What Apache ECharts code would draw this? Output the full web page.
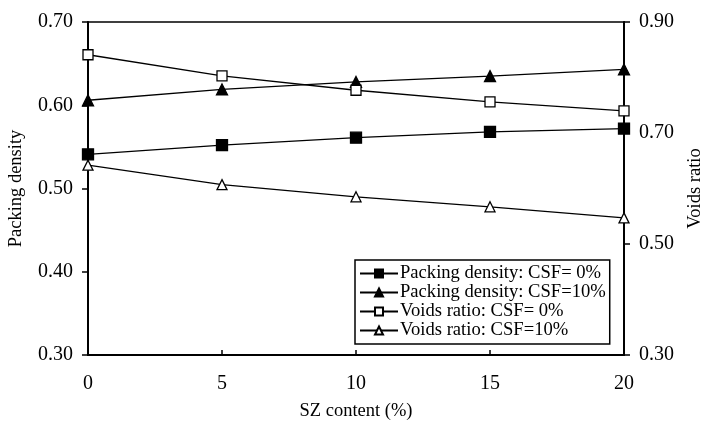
<!DOCTYPE html>
<html>
<head>
<meta charset="utf-8">
<script src="https://cdn.jsdelivr.net/npm/echarts@6/dist/echarts.min.js"></script>
<style>
html,body{margin:0;padding:0;background:#fff;}
#chart{width:704px;height:427px;}
</style>
</head>
<body>
<div id="chart"></div>
<script>
const szContent = [0, 5, 10, 15, 20];
const packingCSF0 = [0.541, 0.552, 0.561, 0.568, 0.572];
const packingCSF10 = [0.606, 0.619, 0.628, 0.635, 0.643];
const voidsCSF0 = [0.841, 0.803, 0.777, 0.756, 0.740];
const voidsCSF10 = [0.642, 0.607, 0.585, 0.567, 0.547];
const seriesNames = ['Packing density: CSF= 0%', 'Packing density: CSF=10%', 'Voids ratio: CSF= 0%', 'Voids ratio: CSF=10%'];
const leftTicks = [0.30, 0.40, 0.50, 0.60, 0.70];
const rightTicks = [0.30, 0.50, 0.70, 0.90];

const FONT = '"Liberation Serif", "Times New Roman", serif';
const pairs = (ys) => szContent.map((x, i) => [x, ys[i]]);

const chart = echarts.init(document.getElementById('chart'), null, {renderer: 'canvas'});
const lineStyle = {color: '#000', width: 1.3};
function mk(name, data, yIdx, symbol, filled, size) {
  return {
    name, type: 'line', yAxisIndex: yIdx, data: pairs(data),
    symbol, symbolSize: size, showSymbol: true,
    lineStyle, itemStyle: {color: filled ? '#000' : '#fff', borderColor: '#000', borderWidth: 1.3},
    emphasis: {disabled: true}, animation: false, z: 3
  };
}
chart.setOption({
  backgroundColor: '#fff',
  animation: false,
  textStyle: {fontFamily: FONT, color: '#000'},
  grid: {left: 88, right: 80, top: 22, bottom: 72, containLabel: false, outerBoundsMode: 'none',
         show: true, borderColor: '#000', borderWidth: 1.5, backgroundColor: 'transparent'},
  legend: {
    orient: 'vertical', left: 355, top: 260,
    data: seriesNames,
    backgroundColor: '#fff', borderColor: '#000', borderWidth: 1.5,
    padding: [4, 4, 4, 4], itemGap: 0, itemWidth: 38, itemHeight: 10,
    textStyle: {fontFamily: FONT, fontSize: 18.6, color: '#000', padding: [0, 0, 0, -3], lineHeight: 18.5}
  },
  xAxis: {
    type: 'value', min: 0, max: 20, interval: 5,
    name: 'SZ content (%)', nameLocation: 'middle', nameGap: 47,
    nameTextStyle: {fontFamily: FONT, fontSize: 18.5, color: '#000'},
    axisLine: {show: true, lineStyle: {color: '#000', width: 2}},
    axisTick: {show: true, inside: true, length: 5, lineStyle: {color: '#000', width: 1.5}},
    axisLabel: {fontFamily: FONT, fontSize: 20, color: '#000', margin: 19},
    splitLine: {show: false}
  },
  yAxis: [{
    type: 'value', min: leftTicks[0], max: leftTicks[leftTicks.length - 1], interval: 0.1,
    name: 'Packing density', nameLocation: 'middle', nameGap: 62, nameRotate: 90,
    nameTextStyle: {fontFamily: FONT, fontSize: 18.5, color: '#000'},
    axisLine: {show: true, lineStyle: {color: '#000', width: 2}},
    axisTick: {show: true, length: 6, lineStyle: {color: '#000', width: 1.5}},
    axisLabel: {fontFamily: FONT, fontSize: 20, color: '#000', margin: 15, formatter: v => v.toFixed(2)},
    splitLine: {show: false}
  }, {
    type: 'value', position: 'right', min: rightTicks[0], max: rightTicks[rightTicks.length - 1], interval: 0.2,
    name: 'Voids ratio', nameLocation: 'middle', nameGap: 62, nameRotate: 90,
    nameTextStyle: {fontFamily: FONT, fontSize: 18.5, color: '#000'},
    axisLine: {show: true, lineStyle: {color: '#000', width: 2}},
    axisTick: {show: true, length: 6, lineStyle: {color: '#000', width: 1.5}},
    axisLabel: {fontFamily: FONT, fontSize: 20, color: '#000', margin: 15, formatter: v => v.toFixed(2)},
    splitLine: {show: false}
  }],
  series: [
    mk(seriesNames[0], packingCSF0, 0, 'rect', true, 11),
    mk(seriesNames[1], packingCSF10, 0, 'triangle', true, 11),
    mk(seriesNames[2], voidsCSF0, 1, 'rect', false, 10),
    mk(seriesNames[3], voidsCSF10, 1, 'triangle', false, 10)
  ]
});
</script>
</body>
</html>
